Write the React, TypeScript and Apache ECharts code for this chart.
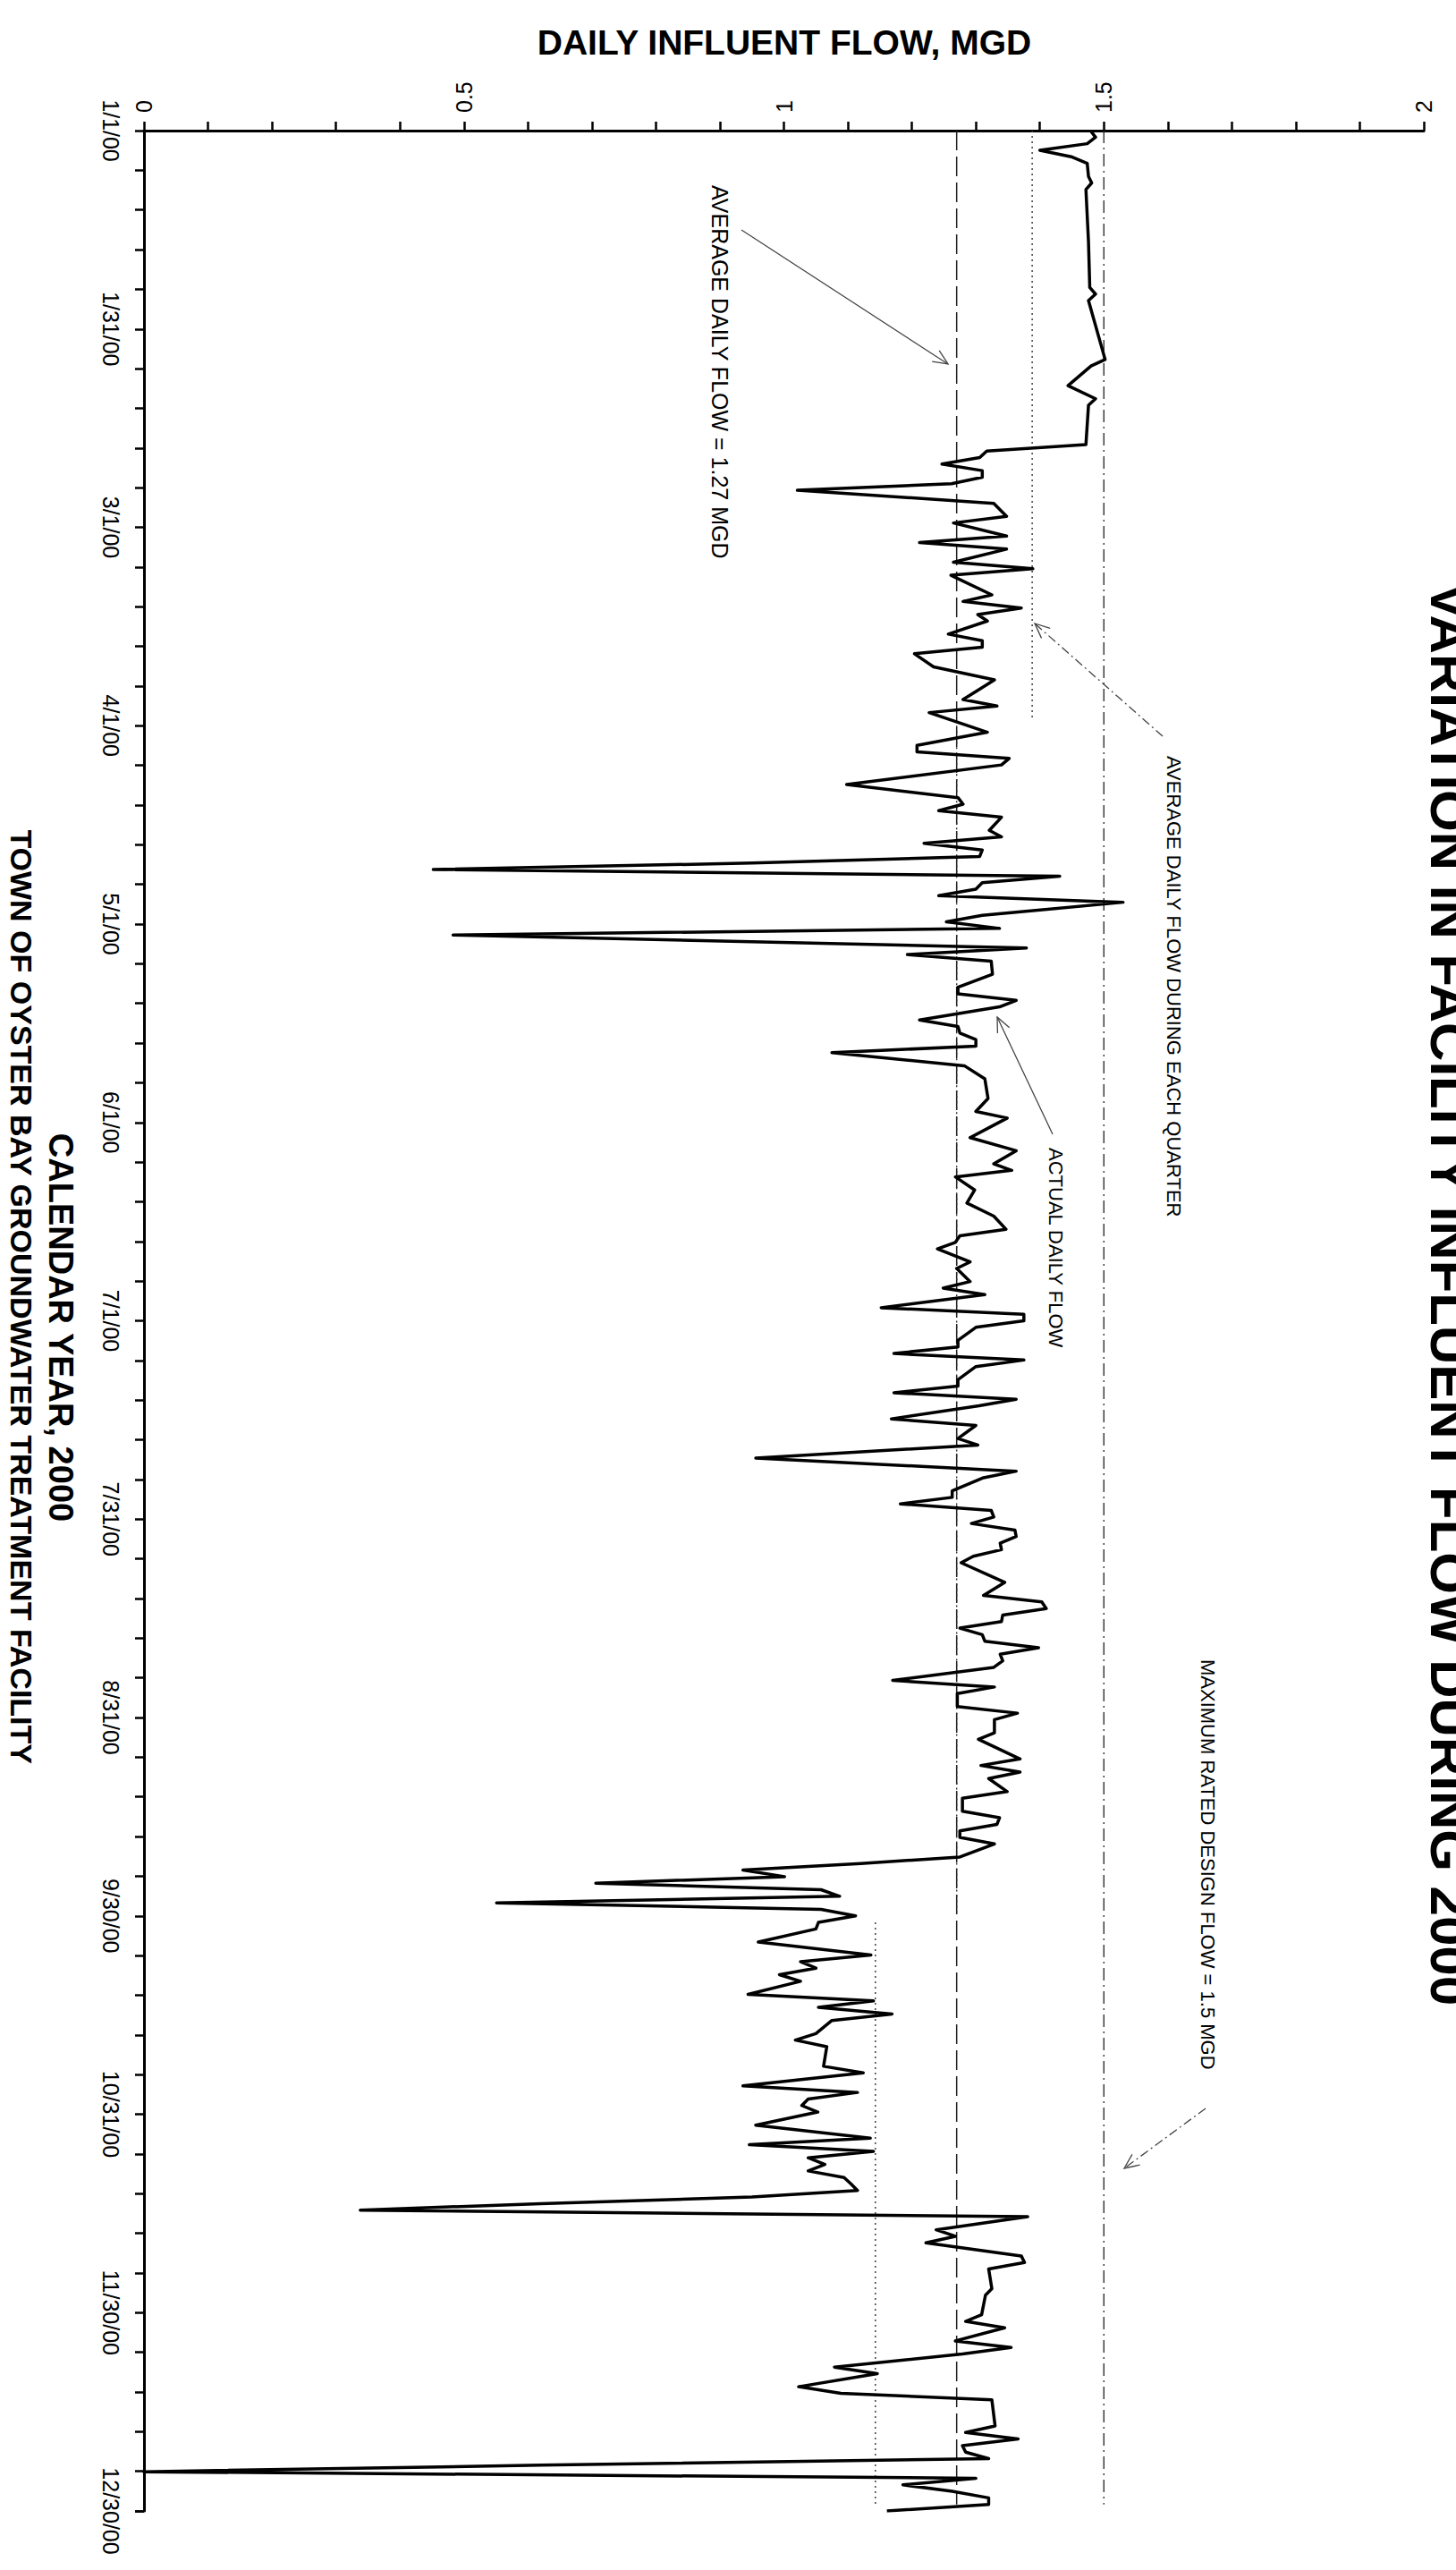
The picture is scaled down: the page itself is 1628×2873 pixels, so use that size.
import React, { useEffect, useRef } from "react";
import * as echarts from "echarts";

// ---------------- data ----------------
const dateLabels = [
  "1/1/00", "1/31/00", "3/1/00", "4/1/00", "5/1/00", "6/1/00", "7/1/00",
  "7/31/00", "8/31/00", "9/30/00", "10/31/00", "11/30/00", "12/30/00",
];
const flowTickLabels = ["0", "0.5", "1", "1.5", "2"];
const yearSpanDays = 364; // 1/1/00 .. 12/30/00

// day index (0 = 1/1/00) of each visible vertex of the daily flow line
const flowDays = [
  0, 1, 2, 3, 4, 5, 7, 8, 9, 17, 24, 25, 26, 35, 36, 39, 41, 42, 48, 49,
  50, 51, 52, 53, 54, 55, 57, 59, 60, 62, 63, 64, 66, 67, 68, 71, 72, 73, 74, 75,
  77, 78, 79, 80, 82, 84, 87, 88, 89, 90, 92, 94, 95, 96, 97, 100, 102, 103, 104, 105,
  107, 108, 109, 110, 111, 112, 113, 114, 115, 116, 117, 118, 120, 121, 122, 123, 125, 126, 127, 129,
  131, 132, 133, 134, 136, 137, 138, 139, 140, 141, 143, 145, 148, 150, 151, 154, 156, 158, 159, 160,
  162, 164, 166, 168, 169, 170, 171, 173, 174, 176, 177, 178, 180, 181, 182, 183, 185, 186, 187, 188,
  189, 191, 192, 193, 194, 195, 197, 198, 200, 201, 203, 205, 206, 208, 209, 210, 211, 212, 213, 214,
  215, 216, 217, 218, 219, 222, 224, 225, 226, 227, 228, 229, 230, 231, 232, 233, 234, 235, 237, 238,
  239, 241, 242, 243, 245, 246, 249, 250, 251, 252, 254, 255, 257, 258, 259, 260, 261, 262, 264, 265,
  266, 267, 268, 269, 270, 271, 272, 273, 274, 275, 277, 279, 280, 281, 282, 283, 285, 286, 287, 288,
  289, 291, 292, 293, 296, 297, 299, 300, 301, 302, 303, 305, 307, 308, 309, 310, 311, 312, 313, 314,
  315, 316, 317, 318, 319, 321, 322, 323, 325, 326, 327, 330, 331, 334, 335, 336, 338, 339, 340, 342,
  343, 345, 346, 347, 351, 352, 353, 354, 355, 356, 357, 358, 359, 360, 361, 362, 363, 364,
];
// daily influent flow (MGD) at those days
const flowValues = [
  1.479, 1.487, 1.474, 1.4, 1.449, 1.474, 1.476, 1.481, 1.472, 1.476, 1.478, 1.487, 1.476, 1.502, 1.48, 1.444, 1.487, 1.476, 1.472, 1.317,
  1.306, 1.247, 1.31, 1.31, 1.262, 1.021, 1.328, 1.348, 1.265, 1.348, 1.212, 1.348, 1.265, 1.389, 1.261, 1.325, 1.28, 1.371, 1.303, 1.318,
  1.257, 1.31, 1.31, 1.204, 1.234, 1.329, 1.28, 1.333, 1.227, 1.257, 1.318, 1.208, 1.208, 1.352, 1.34, 1.098, 1.272, 1.28, 1.242, 1.34,
  1.321, 1.34, 1.219, 1.31, 1.306, 0.95, 0.452, 1.431, 1.31, 1.3, 1.242, 1.53, 1.31, 1.254, 1.337, 0.483, 1.379, 1.193, 1.324, 1.326,
  1.272, 1.272, 1.363, 1.337, 1.212, 1.272, 1.275, 1.3, 1.3, 1.075, 1.282, 1.314, 1.319, 1.3, 1.349, 1.291, 1.363, 1.328, 1.356, 1.268,
  1.298, 1.286, 1.328, 1.347, 1.275, 1.268, 1.24, 1.291, 1.27, 1.291, 1.249, 1.314, 1.152, 1.375, 1.375, 1.3, 1.272, 1.272, 1.172, 1.375,
  1.3, 1.272, 1.272, 1.172, 1.363, 1.305, 1.168, 1.3, 1.272, 1.303, 0.956, 1.363, 1.312, 1.263, 1.263, 1.182, 1.324, 1.328, 1.293, 1.361,
  1.363, 1.338, 1.34, 1.296, 1.277, 1.345, 1.312, 1.403, 1.41, 1.342, 1.34, 1.275, 1.31, 1.314, 1.398, 1.338, 1.342, 1.328, 1.17, 1.329,
  1.271, 1.271, 1.365, 1.329, 1.329, 1.304, 1.369, 1.308, 1.369, 1.32, 1.349, 1.279, 1.279, 1.337, 1.333, 1.275, 1.275, 1.329, 1.275, 1.12,
  0.936, 1.001, 0.706, 1.058, 1.087, 0.551, 1.058, 1.112, 1.054, 1.05, 0.96, 1.136, 1.026, 1.05, 0.993, 1.026, 0.944, 1.14, 1.054, 1.169,
  1.075, 1.05, 1.018, 1.067, 1.062, 1.124, 0.936, 1.115, 1.038, 1.028, 1.053, 0.956, 1.135, 0.946, 1.14, 1.038, 1.064, 1.038, 1.094, 1.105,
  1.115, 0.95, 0.62, 0.338, 1.381, 1.238, 1.268, 1.222, 1.371, 1.376, 1.32, 1.325, 1.315, 1.309, 1.284, 1.345, 1.268, 1.355, 1.279, 1.079,
  1.146, 1.023, 1.089, 1.325, 1.33, 1.284, 1.366, 1.279, 1.284, 1.32, 0.62, 0.0, 1.3, 1.186, 1.263, 1.32, 1.32, 1.161,
];

const designFlow = 1.5;
const annualAverage = 1.27;
const quarterStartDays = [0, 91, 182, 274];
const quarterEndDays = [90, 181, 273, 363];
const quarterAverages = [1.388, 1.27, 1.27, 1.143];

// annotation arrows (pixel geometry)
const arrowFrom = [[829, 257], [1300, 823], [1177, 1268], [1348, 2357]];
const arrowTo = [[1060, 407], [1157, 697], [1115, 1137], [1257, 2424]];

const FONT = "'Liberation Sans', Arial, Helvetica, sans-serif";

function vText(text: string, x: number, y: number, size: number, weight: string, align: string, valign: string) {
  return {
    type: "text",
    x,
    y,
    rotation: -Math.PI / 2,
    z: 100,
    style: {
      text,
      fill: "#000",
      font: `${weight} ${size}px ${FONT}`,
      align,
      verticalAlign: valign,
      textAlign: align,
      textVerticalAlign: valign,
    },
  };
}

function arrow(from: number[], to: number[], dash: number[] | null) {
  const dx = to[0] - from[0];
  const dy = to[1] - from[1];
  const len = Math.sqrt(dx * dx + dy * dy);
  const ux = dx / len;
  const uy = dy / len;
  const headLen = 18;
  const ang = (24 * Math.PI) / 180;
  const c = Math.cos(ang);
  const s = Math.sin(ang);
  const b1 = [to[0] - headLen * (ux * c - uy * s), to[1] - headLen * (uy * c + ux * s)];
  const b2 = [to[0] - headLen * (ux * c + uy * s), to[1] - headLen * (uy * c - ux * s)];
  return [
    {
      type: "line",
      z: 100,
      shape: { x1: from[0], y1: from[1], x2: to[0], y2: to[1] },
      style: { stroke: "#444", lineWidth: 1.3, lineDash: dash || undefined, fill: null },
    },
    {
      type: "polyline",
      z: 100,
      shape: { points: [b1, to, b2] },
      style: { stroke: "#444", lineWidth: 1.3, fill: null },
    },
  ];
}

export default function App() {
  const ref = useRef<HTMLDivElement>(null);

  useEffect(() => {
    if (!ref.current) return;
    const chart = echarts.init(ref.current, null, { renderer: "svg" });
    const step = yearSpanDays / 12;

    const refLine = (x: number, d0: number, d1: number, dash: number[], width: number, color: string) => ({
      type: "line",
      data: [[x, d0], [x, d1]],
      symbol: "none",
      silent: true,
      z: 2,
      lineStyle: { color, width, type: dash },
    });

    const series: any[] = [];
    series.push(refLine(designFlow, 0, 363, [14, 5, 2, 5], 1.3, "#222"));
    series.push(refLine(annualAverage, 0, 363, [22, 7], 1.5, "#222"));
    quarterAverages.forEach((q, i) => {
      series.push(refLine(q, quarterStartDays[i], quarterEndDays[i], [2, 4], 1.4, "#333"));
    });
    series.push({
      type: "line",
      data: flowDays.map((d, i) => [flowValues[i], d]),
      symbol: "none",
      z: 5,
      lineStyle: { color: "#000", width: 3.5, join: "round" },
    });

    const graphic: any[] = [
      {
        type: "text",
        x: 877,
        y: 47,
        z: 100,
        style: {
          text: "DAILY INFLUENT FLOW, MGD",
          fill: "#000",
          font: `bold 39px ${FONT}`,
          align: "center",
          verticalAlign: "middle",
          textAlign: "center",
          textVerticalAlign: "middle",
        },
      },
      vText("VARIATION IN FACILITY INFLUENT FLOW DURING 2000", 1590, 652, 60, "bold", "left", "bottom"),
      vText("CALENDAR YEAR, 2000", 68, 1484, 38, "bold", "center", "middle"),
      vText("TOWN OF OYSTER BAY GROUNDWATER TREATMENT FACILITY", 24, 1972, 34, "bold", "right", "middle"),
      vText("AVERAGE DAILY FLOW = 1.27 MGD", 805, 207, 25, "normal", "left", "middle"),
      vText("AVERAGE DAILY FLOW DURING EACH QUARTER", 1312, 845, 22, "normal", "left", "middle"),
      vText("ACTUAL DAILY FLOW", 1180, 1283, 22, "normal", "left", "middle"),
      vText("MAXIMUM RATED DESIGN FLOW = 1.5 MGD", 1350, 1855, 22, "normal", "left", "middle"),
      ...arrow(arrowFrom[0], arrowTo[0], null),
      ...arrow(arrowFrom[1], arrowTo[1], [10, 4, 2, 4]),
      ...arrow(arrowFrom[2], arrowTo[2], null),
      ...arrow(arrowFrom[3], arrowTo[3], [10, 4, 2, 4]),
    ];

    chart.setOption({
      animation: false,
      backgroundColor: "#fff",
      grid: { left: 161, right: 36, top: 146, bottom: 66, containLabel: false },
      xAxis: {
        type: "value",
        position: "top",
        min: 0,
        max: 2,
        interval: 0.5,
        axisLine: { show: true, onZero: false, lineStyle: { color: "#000", width: 3 } },
        axisTick: { show: true, length: 10, lineStyle: { color: "#000", width: 2.5 } },
        minorTick: { show: true, splitNumber: 5, length: 10, lineStyle: { color: "#000", width: 2.5 } },
        splitLine: { show: false },
        minorSplitLine: { show: false },
        axisLabel: {
          rotate: -90,
          margin: 20,
          fontSize: 25,
          fontFamily: FONT,
          color: "#000",
          formatter: (v: number) => flowTickLabels[Math.round(v / 0.5)] ?? "",
        },
      },
      yAxis: {
        type: "value",
        position: "left",
        inverse: true,
        min: 0,
        max: yearSpanDays,
        interval: step,
        axisLine: { show: true, onZero: false, lineStyle: { color: "#000", width: 3 } },
        axisTick: { show: true, length: 10, lineStyle: { color: "#000", width: 2.5 } },
        minorTick: { show: true, splitNumber: 5, length: 10, lineStyle: { color: "#000", width: 2.5 } },
        splitLine: { show: false },
        minorSplitLine: { show: false },
        axisLabel: {
          rotate: -90,
          margin: 25,
          fontSize: 25,
          fontFamily: FONT,
          color: "#000",
          formatter: (v: number) => dateLabels[Math.round(v / step)] ?? "",
        },
      },
      series,
      graphic,
    });

    return () => chart.dispose();
  }, []);

  return (
    <div
      ref={ref}
      style={{ position: "absolute", left: 0, top: 0, width: 1628, height: 2873, background: "#fff" }}
    />
  );
}
